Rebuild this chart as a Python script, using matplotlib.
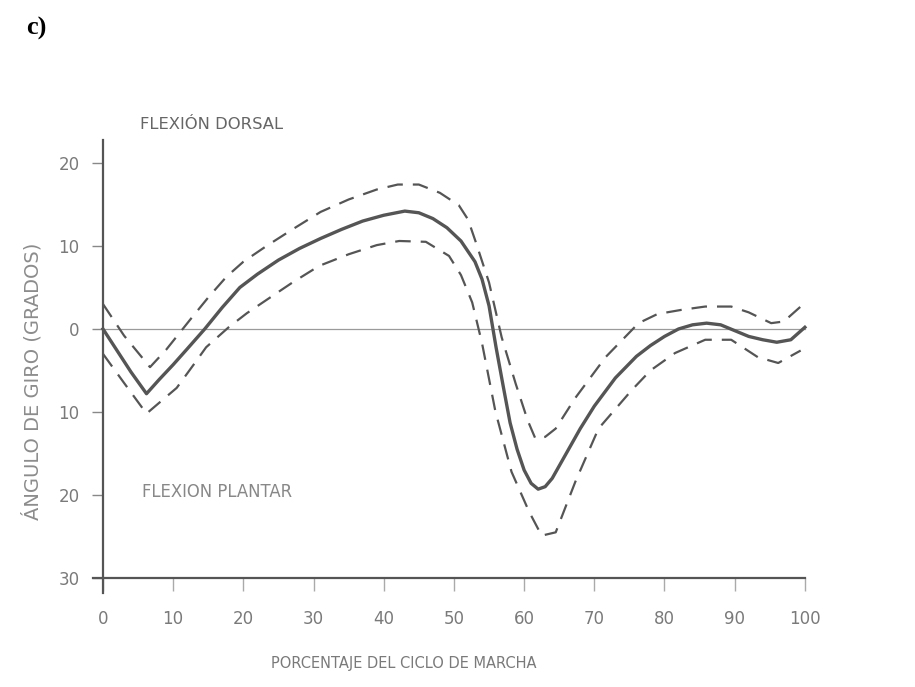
import numpy as np
import matplotlib
matplotlib.use("Agg")
import matplotlib.pyplot as plt

# curve readings (percent of gait cycle, degrees)
mean_x = [0, 2, 4, 6.2, 8, 10, 12, 14.5, 17, 19.5, 22, 25, 28, 31, 34, 37, 40, 43, 45, 47,
          49, 51, 53, 54, 55, 56, 57, 58, 59, 60, 61, 62, 63, 64, 66, 68, 70, 73, 76, 78,
          80, 82, 84, 86, 88, 90, 92, 94, 96, 98, 100]
mean_y = [0, -2.6, -5.2, -7.8, -6.1, -4.3, -2.4, 0, 2.6, 5.0, 6.6, 8.3, 9.7, 10.9, 12.0, 13.0,
          13.7, 14.2, 14.0, 13.3, 12.2, 10.6, 8.1, 6.0, 2.8, -2.2, -6.8, -11.3, -14.5, -17.0,
          -18.6, -19.3, -19.0, -18.0, -15.0, -12.0, -9.3, -5.9, -3.3, -2.0, -0.9, 0.0, 0.5,
          0.7, 0.5, -0.2, -0.9, -1.3, -1.6, -1.3, 0.2]

upper_x = [0, 3, 6.7, 9, 12.4, 15, 17.6, 20, 23.3, 27, 31, 35, 39, 42, 45, 48, 50.7, 52,
           53.1, 55, 56.8, 58.8, 60.5, 61.6, 63, 64.5, 67.3, 71.6, 76.3, 79, 82.4, 85.8,
           89.5, 92, 95.2, 97, 99.4]
upper_y = [3, -0.8, -4.6, -2.5, 1.1, 3.8, 6.3, 8.1, 10.0, 12.0, 14.1, 15.6, 16.8, 17.4, 17.4,
           16.4, 14.9, 13.2, 10.5, 5.6, -1.0, -6.6, -11.0, -13.2, -13.0, -12.0, -8.3, -3.4,
           0.7, 1.8, 2.3, 2.7, 2.7, 2.0, 0.7, 0.9, 2.7]

lower_x = [0, 3, 6.2, 8, 10.5, 13, 14.7, 17.9, 20.5, 23.3, 27, 30.8, 35, 39, 42.2, 46, 49.3,
           51, 52.6, 54, 55.9, 58.2, 60.7, 62.5, 64.5, 67.3, 70.6, 75.3, 78, 81.5, 85.8, 89.5,
           93.3, 96.2, 99.4]
lower_y = [-3, -6.5, -10.2, -8.9, -7.1, -4.2, -2.2, 0.2, 1.9, 3.5, 5.6, 7.6, 9.0, 10.1, 10.6,
           10.5, 8.8, 6.5, 3.2, -1.7, -9.9, -17.2, -22, -24.9, -24.5, -18.4, -12.0, -7.4,
           -5.0, -2.9, -1.3, -1.3, -3.4, -4.1, -2.6]

xticks = [0, 10, 20, 30, 40, 50, 60, 70, 80, 90, 100]
yticks = [20, 10, 0, -10, -20, -30]
ytick_labels = ["20", "10", "0", "10", "20", "30"]

plt.rcParams['font.family'] = ['DejaVu Sans']

fig = plt.figure(figsize=(9.15, 6.87), dpi=100)
ax = fig.add_axes([0.0742, 0.0983, 0.8438, 0.7249])
ax.set_xlim(-5, 105)
ax.set_ylim(-35, 25)

line_col = "#555555"
txt_col = "#7a7a7a"

# zero reference line
ax.plot([0, 100], [0, 0], color="#9a9a9a", lw=0.9)

ax.plot(mean_x, mean_y, color=line_col, lw=2.4, solid_joinstyle="round")
for xs, ys in [(upper_x, upper_y), (lower_x, lower_y)]:
    ln, = ax.plot(xs, ys, color=line_col, lw=1.6)
    ln.set_dashes((7, 4.5))

# axes look
for s in ["top", "right"]:
    ax.spines[s].set_visible(False)
ax.spines["left"].set_position(("data", 0))
ax.spines["left"].set_bounds(-31.8, 22.8)
ax.spines["bottom"].set_position(("data", -30))
ax.spines["bottom"].set_bounds(-1.4, 100)
for s in ["left", "bottom"]:
    ax.spines[s].set_color(line_col)
    ax.spines[s].set_linewidth(1.6)

ax.set_xticks(xticks)
ax.set_xticklabels([str(v) for v in xticks])
ax.set_yticks(yticks)
ax.set_yticklabels(ytick_labels)
ax.tick_params(axis="y", direction="out", length=8, width=1, color="#888888",
               labelcolor=txt_col, labelsize=12, pad=9)
ax.tick_params(axis="x", direction="out", length=9, width=1, color="#aaaaaa",
               labelcolor=txt_col, labelsize=12, pad=14)

ax.set_xlabel("PORCENTAJE DEL CICLO DE MARCHA", color=txt_col, fontsize=10.5)
ax.xaxis.set_label_coords(0.435, -0.073)
ax.set_ylabel("ÁNGULO DE GIRO (GRADOS)", color="#8c8c8c", fontsize=14)
ax.yaxis.set_label_coords(-0.0335, 0.479)

ax.text(5.3, 24.6, "FLEXIÓN DORSAL", color="#666666", fontsize=11.8, va="center", ha="left")
ax.text(5.5, -19.6, "FLEXION PLANTAR", color="#888888", fontsize=11.9, va="center", ha="left")

fig.text(0.029, 0.958, "c)", fontsize=19, fontweight="bold", family="Liberation Serif",
         va="center", ha="left", color="black")

fig.savefig("out.png", dpi=100, facecolor="white")
